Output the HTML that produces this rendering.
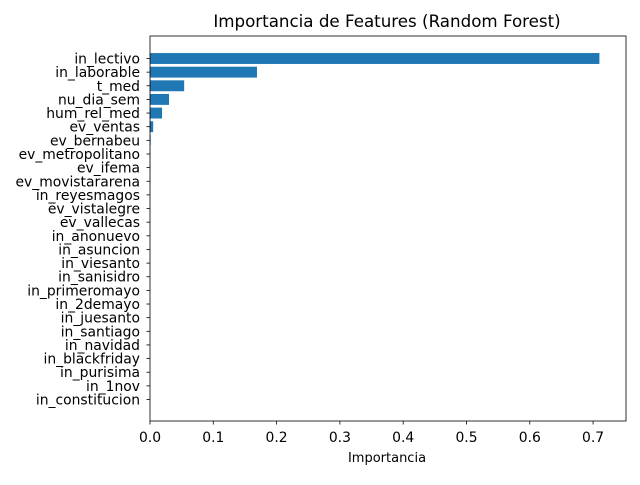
<!DOCTYPE html>
<html><head><meta charset="utf-8"><style>
body{margin:0;background:#fff;}
svg text{font-family:"DejaVu Sans","Liberation Sans",sans-serif;fill:#000;}
</style></head><body>
<svg id="chart" width="640" height="480" viewBox="0 0 640 480" xmlns="http://www.w3.org/2000/svg">
<rect width="640" height="480" fill="#fff"/>
<text x="387" y="27" font-size="16.7" text-anchor="middle">Importancia de Features (Random Forest)</text>
<g id="bars"></g>
<g id="axes"></g>
<text x="387" y="462" font-size="13" text-anchor="middle">Importancia</text>
</svg>
<script>
const categories=["in_lectivo","in_laborable","t_med","nu_dia_sem","hum_rel_med","ev_ventas","ev_bernabeu","ev_metropolitano","ev_ifema","ev_movistararena","in_reyesmagos","ev_vistalegre","ev_vallecas","in_anonuevo","in_asuncion","in_viesanto","in_sanisidro","in_primeromayo","in_2demayo","in_juesanto","in_santiago","in_navidad","in_blackfriday","in_purisima","in_1nov","in_constitucion"];
const values=[0.710,0.169,0.054,0.030,0.019,0.005,0.001,0.0005,0.0004,0.0003,0.0002,0.0002,0.0002,0.0001,0.0001,0.0001,0.0001,0.0001,0.0001,0.0001,0.0001,0.0001,0.0001,0.0001,0.0001,0.0001];
const xTicks=[0,0.1,0.2,0.3,0.4,0.5,0.6,0.7];
const xTickLabels=["0.0","0.1","0.2","0.3","0.4","0.5","0.6","0.7"];
const L=150,R=626,T=36,B=421,xMax=0.752;
const NS="http://www.w3.org/2000/svg";
const x=v=>L+v/xMax*(R-L);
const n=categories.length;
const y0=58.5;
const y=i=>y0+i*((399.5-58.5)/(n-1));
const bh=0.8*(399-58)/(n-1);
const bars=document.getElementById('bars'),axes=document.getElementById('axes');
function mk(tag,attrs,parent){const e=document.createElementNS(NS,tag);for(const k in attrs)e.setAttribute(k,attrs[k]);parent.appendChild(e);return e;}
categories.forEach((c,i)=>{
 const r=mk('rect',{x:L,y:y(i)-bh/2,width:Math.max(0,x(values[i])-L),height:bh,fill:'#1f77b4'},bars);
 
 
 const t=mk('line',{x1:L-3.5,x2:L,y1:y(i),y2:y(i),stroke:'#000','stroke-width':0.8},axes);
 
 
 const lb=mk('text',{x:L-10,y:y(i)+5,'font-size':13.9,'text-anchor':'end'},axes);
 lb.textContent=c;
 
 
});
xTicks.forEach((v,i)=>{
 const t=mk('line',{x1:x(v),x2:x(v),y1:B,y2:B+3.5,stroke:'#000','stroke-width':0.8},axes);
 
 
 const lb=mk('text',{x:x(v),y:B+21,'font-size':13.9,'text-anchor':'middle'},axes);
 lb.textContent=xTickLabels[i];
 
 
});
const fr=mk('rect',{x:L,y:T,width:R-L,height:B-T,fill:'none',stroke:'#000','stroke-width':0.8},axes);


</script>
</body></html>
